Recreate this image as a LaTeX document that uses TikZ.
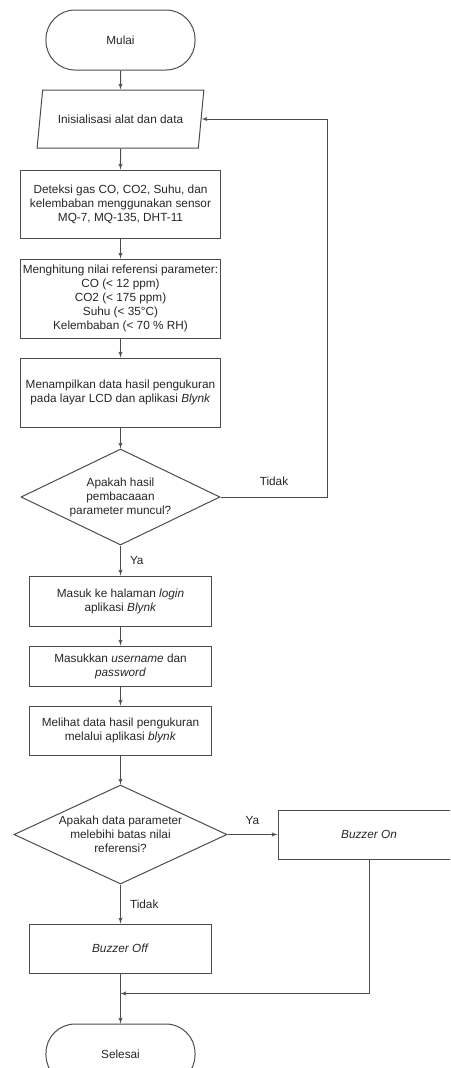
\documentclass[tikz,border=0pt]{standalone}
\usepackage{fontspec}
\setmainfont{Liberation Sans}
\usetikzlibrary{arrows,positioning,shapes.geometric}

\begin{document}
\begin{tikzpicture}[
    auto,
    node distance=20pt,
    >=latex',
    line width=1pt,
    color=black!70,
    text=black!85,
    font=\fontsize{11.8}{14}\selectfont,
    terminal/.style={
		rectangle,
		rounded corners=29pt,
		draw,
		minimum width=149pt,
		minimum height=60pt
	},
    io/.style={
		trapezium,
		trapezium left angle=73,
		trapezium right angle=107,
		trapezium stretches=true,
		draw,
		minimum width=167pt,
		minimum height=58pt
	},
    block/.style={
		rectangle,
		draw,
		align=center,
		inner xsep=1pt,
		inner ysep=3pt,
		minimum width=199pt
	},
    smallblock/.style={
		block,
		minimum width=182pt
	},
    decision/.style={
		diamond,
		draw,
		align=center,
		inner sep=0pt
	},
	lbl/.style={
		inner sep=4pt
	}
  ]
    % frame of the page
    \useasboundingbox (-120.5pt,40pt) rectangle (329.5pt,-1028pt);
    \clip (-120.5pt,40pt) rectangle (329.5pt,-1028pt);

    % main column
  \node [terminal] (mulai) {Mulai};
  \node [io, below=19pt of mulai] (init) {Inisialisasi alat dan data};
  \node [block, below=21pt of init, minimum height=68pt] (deteksi)
 {Deteksi gas CO, CO2, Suhu, dan\\kelembaban menggunakan sensor\\MQ-7, MQ-135, DHT-11};
  \node [block, below=20pt of deteksi, minimum height=79pt] (hitung)
 {Menghitung nilai referensi parameter:\\CO (< 12 ppm)\\CO2 (< 175 ppm)\\Suhu (< 35°C)\\Kelembaban (< 70 \% RH)};
  \node [block, below=19pt of hitung, minimum height=69pt] (tampil)
 {Menampilkan data hasil pengukuran\\pada layar LCD dan aplikasi \textit{Blynk}};
  \node [decision, below=21pt of tampil, minimum width=199pt, minimum height=96pt, aspect=2.07] (cek1)
 {Apakah hasil\\pembacaaan\\parameter muncul?};
  \node [smallblock, below=30pt of cek1, minimum height=50pt] (login)
 {Masuk ke halaman \textit{login}\\aplikasi \textit{Blynk}};
  \node [smallblock, below=19pt of login, minimum height=40pt] (akun)
 {Masukkan \textit{username} dan\\\textit{password}};
  \node [smallblock, below=19pt of akun, minimum height=49pt] (lihat)
 {Melihat data hasil pengukuran\\melalui aplikasi \textit{blynk}};
  \node [decision, below=29pt of lihat, minimum width=213pt, minimum height=99pt, aspect=2.15] (cek2)
 {Apakah data parameter\\melebihi batas nilai\\referensi?};
  \node [smallblock, right=50pt of cek2, minimum height=49pt] (buzzon) {\textit{Buzzer On}};
  \node [smallblock, below=39pt of cek2, minimum height=49pt] (buzzoff) {\textit{Buzzer Off}};
  \coordinate [below=20pt of buzzoff] (gabung);
  \node [terminal, below=50pt of buzzoff] (selesai) {Selesai};

    % connectors
  \draw [->] (mulai) -- (init);
  \draw [->] (init) -- (deteksi);
  \draw [->] (deteksi) -- (hitung);
  \draw [->] (hitung) -- (tampil);
  \draw [->] (tampil) -- (cek1);
  \draw [->] (cek1.east) -- node [lbl, above=7pt] {Tidak} ++(107pt,0) |- (init.east);
  \draw [->] (cek1) -- node [lbl, right=5pt] {Ya} (login);
  \draw [->] (login) -- (akun);
  \draw [->] (akun) -- (lihat);
  \draw [->] (lihat) -- (cek2);
  \draw [->] (cek2) -- node [lbl, above=5pt] {Ya} (buzzon);
  \draw [->] (cek2) -- node [lbl, right=5pt] {Tidak} (buzzoff);
  \draw [->] (buzzon) |- (gabung);
  \draw [->] (buzzoff) -- (selesai);

\end{tikzpicture}
\end{document}
